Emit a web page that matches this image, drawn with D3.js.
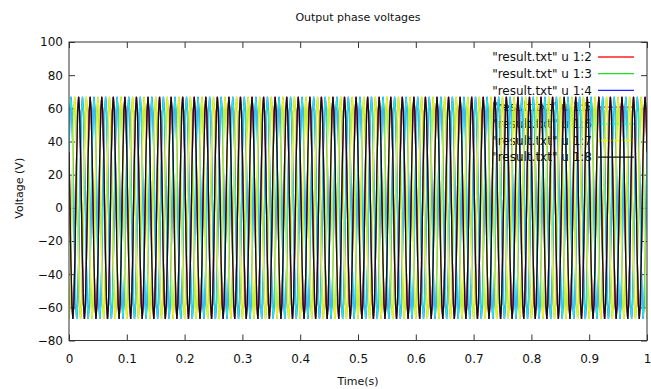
<!DOCTYPE html>
<html>
<head>
<meta charset="utf-8">
<script src="https://cdn.jsdelivr.net/npm/d3@7"></script>
<style>
    body{margin:0;background:#fff;}
    text{font-family:"DejaVu Sans", sans-serif;fill:#111;}
</style>
</head>
<body>
<svg id="chart" width="651" height="389"></svg>
<script>
// one 20 ms period of the phase voltage, 12 samples, peaks read at ~67 V
const cycleValues = [0, 33.5, 58, 67, 58, 33.5, 0, -33.5, -58, -67, -58, -33.5];
const cyclesShown = 50;
const samplesPerCycle = cycleValues.length;
const sampleStep = 0.02 / samplesPerCycle;

const seriesNames = ['"result.txt" u 1:2', '"result.txt" u 1:3', '"result.txt" u 1:4',
    '"result.txt" u 1:5', '"result.txt" u 1:6', '"result.txt" u 1:7', '"result.txt" u 1:8'];
const seriesColors = ['#ff2020', '#20e020', '#2020ff', '#c020c0', '#20e6e6', '#f2f020', '#101010'];
// delay of each column in samples (4 samples = 120 degrees)
const seriesShifts = [7, 3, 11, 7, 11, 3, 7];

const xTickValues = [0, 0.1, 0.2, 0.3, 0.4, 0.5, 0.6, 0.7, 0.8, 0.9, 1];
const yTickValues = [-80, -60, -40, -20, 0, 20, 40, 60, 80, 100];

const width = 651, height = 389;
const margin = {left: 69, right: 4, top: 42, bottom: 48.5};
const plotW = width - margin.left - margin.right;
const plotH = height - margin.top - margin.bottom;

const svg = d3.select('#chart');
const x = d3.scaleLinear().domain([0, 1]).range([0, plotW]);
const y = d3.scaleLinear().domain([-80, 100]).range([plotH, 0]);

// build each column by repeating the read period
let nSamples = cyclesShown * samplesPerCycle + 1;
let series = [];
for(let s = 0; s < seriesNames.length; s++){
    let pts = [];
    for(let i = 0; i < nSamples; i++){
        let k = ((i - seriesShifts[s]) % samplesPerCycle + samplesPerCycle) % samplesPerCycle;
        pts.push({t: i * sampleStep, v: cycleValues[k]});
    }
    series.push(pts);
}

svg.append('text').attr('x', margin.left + plotW/2).attr('y', 21)
    .attr('text-anchor', 'middle').style('font-size', '11px').text('Output phase voltages');

let g = svg.append('g').attr('transform', 'translate(' + margin.left + ',' + margin.top + ')');

// axes with inward, mirrored ticks
let fmt = function(d){ return d3.format('')(+d.toFixed(1)); };
g.append('g').attr('transform', 'translate(0,' + plotH + ')')
    .call(d3.axisBottom(x).tickValues(xTickValues).tickSize(-6).tickPadding(13.5).tickFormat(fmt));
g.append('g').call(d3.axisTop(x).tickValues(xTickValues).tickSize(-6).tickFormat(''));
g.append('g').call(d3.axisLeft(y).tickValues(yTickValues).tickSize(-6).tickPadding(6));
g.append('g').attr('transform', 'translate(' + plotW + ',0)')
    .call(d3.axisRight(y).tickValues(yTickValues).tickSize(-6).tickFormat(''));
g.selectAll('.domain').remove();
g.selectAll('.tick line').style('stroke', '#333');
g.selectAll('.tick text').style('font-size', '12px').style('fill', '#111');

let plot = g.append('g');
let clip = svg.append('defs').append('clipPath').attr('id', 'clipArea');
clip.append('rect').attr('width', plotW).attr('height', plotH);

let line = d3.line().x(function(d){return x(d.t)}).y(function(d){return y(d.v)});
let keyX = 592 - margin.left, keyY = 57 - margin.top, keyStep = 16.7;

// gnuplot draws each key entry right before its curve
for(let s = 0; s < series.length; s++){
    let ky = keyY + s * keyStep;
    plot.append('text').attr('x', keyX).attr('y', ky).attr('dy', '0.35em')
        .attr('text-anchor', 'end').style('font-size', '12px').style('fill', '#111')
        .text(seriesNames[s]);
    plot.append('line').attr('x1', keyX + 6).attr('x2', keyX + 42).attr('y1', ky).attr('y2', ky)
        .style('stroke', seriesColors[s]).style('stroke-width', 1.3);
    plot.append('path').datum(series[s]).attr('d', line)
        .attr('clip-path', 'url(#clipArea)')
        .style('fill', 'none').style('stroke', seriesColors[s]).style('stroke-width', 1.3);
}

g.append('rect').attr('width', plotW).attr('height', plotH)
    .style('fill', 'none').style('stroke', '#333').style('stroke-width', 1);

svg.append('text').attr('transform', 'translate(19,' + (margin.top + plotH/2 - 3) + ') rotate(-90)')
    .attr('text-anchor', 'middle').attr('dy', '0.35em').style('font-size', '11px').text('Voltage (V)');
svg.append('text').attr('x', margin.left + plotW/2).attr('y', 385)
    .attr('text-anchor', 'middle').style('font-size', '11px').text('Time(s)');
</script>
</body>
</html>
